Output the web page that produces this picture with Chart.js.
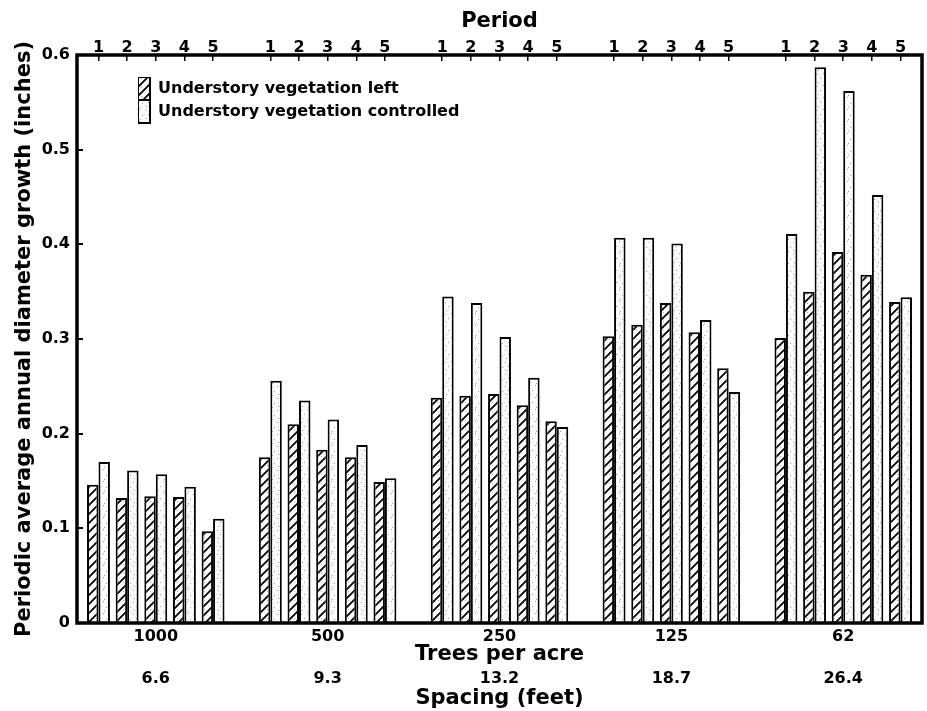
<!DOCTYPE html>
<html>
<head>
<meta charset="utf-8">
<title>Periodic diameter growth by spacing</title>
<script src="https://cdn.jsdelivr.net/npm/chart.js@4.4.0/dist/chart.umd.min.js"></script>
<style>
  html, body { margin: 0; padding: 0; background: #fff; }
  #wrap { width: 927px; height: 711px; }
</style>
</head>
<body>
<div id="wrap"><canvas id="grafico" width="927" height="711"></canvas></div>
<script>
// --- Data ---
const treesPerAcre = ['1000', '500', '250', '125', '62'];
const spacingFeet = ['6.6', '9.3', '13.2', '18.7', '26.4'];
const periods = ['1', '2', '3', '4', '5'];
const yTickLabels = ['0', '0.1', '0.2', '0.3', '0.4', '0.5', '0.6'];

// growth in inches, one row per density, periods 1..5
const vegetationLeft = [
    [0.146, 0.132, 0.134, 0.133, 0.097],
    [0.175, 0.210, 0.183, 0.175, 0.149],
    [0.238, 0.240, 0.242, 0.230, 0.213],
    [0.303, 0.315, 0.338, 0.307, 0.269],
    [0.301, 0.350, 0.392, 0.368, 0.339]
];
const vegetationControlled = [
    [0.170, 0.161, 0.157, 0.144, 0.110],
    [0.256, 0.235, 0.215, 0.188, 0.153],
    [0.345, 0.338, 0.302, 0.259, 0.207],
    [0.407, 0.407, 0.401, 0.320, 0.244],
    [0.411, 0.587, 0.562, 0.452, 0.344]
];

// --- Slot layout: 5 periods then one empty slot between densities ---
const SLOTS = periods.length + 1;
const toPoints = rows => rows.flatMap((row, g) => row.map((v, p) => ({ x: g * SLOTS + p, y: v })));
const periodSlots = treesPerAcre.flatMap((_, g) => periods.map((_, p) => g * SLOTS + p));
const groupCentres = treesPerAcre.map((_, g) => g * SLOTS + (periods.length - 1) / 2);
const xMin = -0.75;
const xMax = (treesPerAcre.length - 1) * SLOTS + periods.length - 1 + 0.75;

const canvas = document.getElementById('grafico');
const ctx = canvas.getContext('2d');

// hatch "/" fill for the vegetation-left bars
function hatchPattern() {
    const c = document.createElement('canvas');
    c.width = c.height = 9;
    const g = c.getContext('2d');
    g.fillStyle = '#fff';
    g.fillRect(0, 0, 9, 9);
    g.fillStyle = '#aaa';
    g.fillRect(6, 6, 1, 1);
    g.strokeStyle = '#000';
    g.lineWidth = 1.8;
    g.beginPath();
    g.moveTo(0, 9); g.lineTo(9, 0);
    g.moveTo(-2, 2); g.lineTo(2, -2);
    g.moveTo(7, 11); g.lineTo(11, 7);
    g.stroke();
    return ctx.createPattern(c, 'repeat');
}

// light stipple for the vegetation-controlled bars
function stipplePattern() {
    const c = document.createElement('canvas');
    c.width = c.height = 12;
    const g = c.getContext('2d');
    g.fillStyle = '#fff';
    g.fillRect(0, 0, 12, 12);
    g.fillStyle = '#9a9a9a';
    [[1, 2], [7, 1], [4, 6], [10, 7], [2, 10], [8, 11]].forEach(([x, y]) => g.fillRect(x, y, 1, 1));
    return ctx.createPattern(c, 'repeat');
}

// thick frame round the plot area
const frame = {
    id: 'frame',
    afterDatasetsDraw(chart) {
        const { ctx: c, chartArea: a } = chart;
        c.save();
        c.strokeStyle = '#000';
        c.lineWidth = 3.5;
        c.strokeRect(a.left, a.top, a.right - a.left, a.bottom - a.top);
        c.restore();
    }
};

// move the chartArea legend to the upper left corner of the plot
const legendInside = {
    id: 'legendInside',
    afterLayout(chart) {
        chart.legend.left = chart.chartArea.left + 61;
        chart.legend.top = chart.chartArea.top + 22;
    }
};

const tickFont = { family: 'DejaVu Sans', size: 16, weight: 'bold' };
const titleFont = { family: 'DejaVu Sans', size: 21, weight: 'bold' };

new Chart(ctx, {
    type: 'bar',
    data: {
        datasets: [
            {
                label: 'Understory vegetation left',
                data: toPoints(vegetationLeft),
                backgroundColor: hatchPattern(),
                borderColor: '#000',
                borderWidth: 2
            },
            {
                label: 'Understory vegetation controlled',
                data: toPoints(vegetationControlled),
                backgroundColor: stipplePattern(),
                borderColor: '#000',
                borderWidth: 2
            }
        ]
    },
    options: {
        responsive: false,
        animation: false,
        layout: { padding: { right: 5 } },
        datasets: { bar: { categoryPercentage: 0.8, barPercentage: 1 } },
        plugins: {
            tooltip: { enabled: false },
            legend: {
                position: 'chartArea',
                align: 'start',
                labels: { boxWidth: 12, boxHeight: 23, padding: 0, color: '#000', font: tickFont }
            }
        },
        scales: {
            x: {
                type: 'linear', position: 'bottom', min: xMin, max: xMax, offset: false,
                grid: { display: false, drawTicks: false, offset: false },
                border: { display: false },
                afterBuildTicks: s => { s.ticks = groupCentres.map(v => ({ value: v })); },
                afterFit: s => { s.height = 44; },
                ticks: { autoSkip: false, maxRotation: 0, padding: 4, color: '#000', font: tickFont,
                         callback: (v, i) => treesPerAcre[i] },
                title: { display: true, text: 'Trees per acre', color: '#000', font: titleFont,
                         padding: { top: 0, bottom: 0 } }
            },
            spacing: {
                type: 'linear', axis: 'x', position: 'bottom', weight: 1, min: xMin, max: xMax, offset: false,
                grid: { display: false, drawTicks: false, offset: false },
                border: { display: false },
                afterBuildTicks: s => { s.ticks = groupCentres.map(v => ({ value: v })); },
                afterFit: s => { s.height = 44; },
                ticks: { autoSkip: false, maxRotation: 0, padding: 2, color: '#000', font: tickFont,
                         callback: (v, i) => spacingFeet[i] },
                title: { display: true, text: 'Spacing (feet)', color: '#000', font: titleFont,
                         padding: { top: 0, bottom: 0 } }
            },
            period: {
                type: 'linear', axis: 'x', position: 'top', min: xMin, max: xMax, offset: false,
                grid: { drawOnChartArea: false, offset: false, tickLength: -6, lineWidth: 1.5, color: '#000' },
                border: { display: false },
                afterBuildTicks: s => { s.ticks = periodSlots.map(v => ({ value: v })); },
                afterFit: s => { s.height = 55; },
                ticks: { autoSkip: false, maxRotation: 0, padding: 4, color: '#000', font: tickFont,
                         callback: (v, i) => periods[i % periods.length] },
                title: { display: true, text: 'Period', color: '#000', font: titleFont,
                         padding: { top: 9, bottom: 0 } }
            },
            y: {
                min: 0, max: 0.6,
                grid: { drawOnChartArea: false, tickLength: -6, lineWidth: 2, color: '#000' },
                border: { display: false },
                afterFit: s => { s.width = 77; },
                ticks: { stepSize: 0.1, padding: 13, color: '#000', font: tickFont,
                         callback: (v, i) => yTickLabels[i] },
                title: { display: true, text: 'Periodic average annual diameter growth (inches)', color: '#000',
                         font: { family: 'DejaVu Sans', size: 21, weight: 'bold' },
                         padding: { top: 12, bottom: 0 } }
            }
        }
    },
    plugins: [frame, legendInside]
});
</script>
</body>
</html>
